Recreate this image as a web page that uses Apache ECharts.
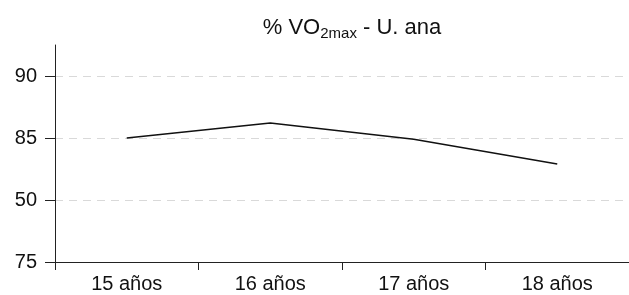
<!DOCTYPE html>
<html>
<head>
<meta charset="utf-8">
<script src="https://cdn.jsdelivr.net/npm/echarts@6/dist/echarts.min.js"></script>
<style>
  html, body { margin: 0; padding: 0; background: #fff; }
  #chart { width: 629px; height: 295px; }
</style>
</head>
<body>
<div id="chart"></div>
<script>
const categories = ["15 años", "16 años", "17 años", "18 años"];
const values = [85, 86.2, 84.9, 82.9];
const yTickValues = [75, 80, 85, 90];
const yTickLabels = ["75", "50", "85", "90"];

var myChart = echarts.init(document.getElementById("chart"));
var option;

option = {
  animation: false,
  textStyle: { fontFamily: "Liberation Sans, Arial, sans-serif" },
  title: {
    text: "% VO{sub|2max} - U. ana",
    left: 347,
    top: 9,
    textAlign: "center",
    textStyle: {
      fontSize: 22,
      fontWeight: "normal",
      color: "#111",
      rich: {
        sub: { fontSize: 15, color: "#111", padding: [12, 0, 0, 0] },
      },
    },
  },
  grid: {
    left: 55,
    right: -10,
    top: 45,
    bottom: 33,
  },
  xAxis: {
    type: "category",
    data: categories,
    boundaryGap: true,
    axisLine: { show: true, lineStyle: { color: "#222", width: 1 } },
    axisTick: { show: true, length: 8, lineStyle: { color: "#222", width: 1 } },
    axisLabel: { fontSize: 20, color: "#111", margin: 12 },
  },
  yAxis: [
    {
      type: "value",
      min: 75,
      max: 92.5,
      interval: 5,
      axisLine: { show: true, onZero: false, lineStyle: { color: "#222", width: 1 } },
      axisTick: { show: false },
      axisLabel: {
        fontSize: 20,
        color: "#111",
        margin: 18,
        showMaxLabel: false,
        formatter: (v) => {
          const i = yTickValues.indexOf(v);
          return i < 0 ? "" : yTickLabels[i];
        },
      },
      splitLine: {
        show: true,
        showMaxLine: false,
        lineStyle: { color: "#d9d9d9", type: [8, 6], width: 1 },
      },
    },
    {
      // tick marks only, shifted left and pointing back to the axis line
      type: "value",
      position: "left",
      offset: 10,
      min: 75,
      max: 92.5,
      interval: 5,
      axisLine: { show: false, onZero: false },
      axisTick: {
        show: true,
        inside: true,
        length: 10,
        customValues: yTickValues,
        lineStyle: { color: "#222", width: 1 },
      },
      axisLabel: { show: false },
      splitLine: { show: false },
    },
  ],
  series: [
    {
      type: "line",
      yAxisIndex: 0,
      data: values,
      symbol: "none",
      lineStyle: { color: "#111", width: 1.5 },
    },
  ],
};

option && myChart.setOption(option);
</script>
</body>
</html>
